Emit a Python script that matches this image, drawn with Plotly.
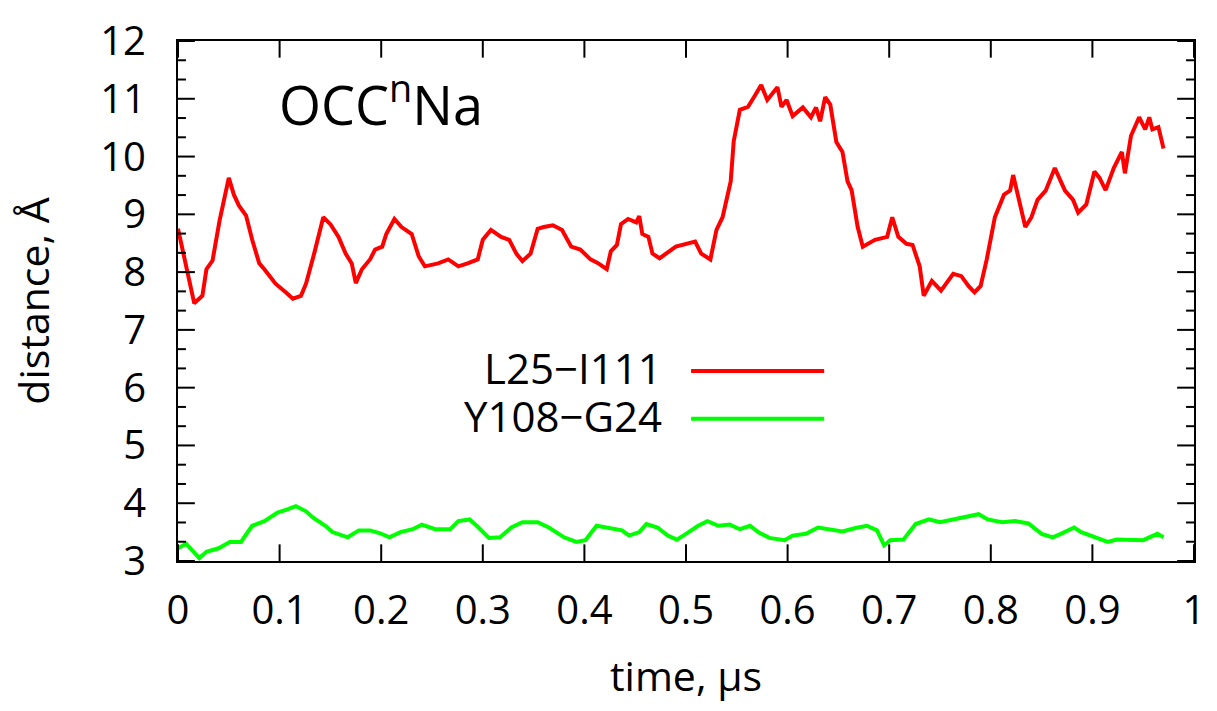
import plotly.graph_objects as go

# L25-I111 distance (red)
t_red = [0.000, 0.016, 0.024, 0.028, 0.034, 0.041, 0.050, 0.055, 0.060, 0.067, 0.073, 0.080,
         0.085, 0.096, 0.106, 0.113, 0.121, 0.126, 0.134, 0.139, 0.143, 0.150, 0.158, 0.165,
         0.171, 0.175, 0.181, 0.189, 0.194, 0.201, 0.205, 0.213, 0.220, 0.230, 0.237, 0.243,
         0.256, 0.266, 0.276, 0.285, 0.295, 0.300, 0.308, 0.318, 0.326, 0.333, 0.339, 0.347,
         0.354, 0.360, 0.369, 0.378, 0.387, 0.396, 0.406, 0.413, 0.422, 0.426, 0.432, 0.436,
         0.443, 0.451, 0.454, 0.457, 0.463, 0.467, 0.474, 0.490, 0.509, 0.515, 0.524, 0.530,
         0.536, 0.544, 0.547, 0.553, 0.561, 0.567, 0.574, 0.580, 0.586, 0.590, 0.594, 0.599,
         0.605, 0.615, 0.623, 0.628, 0.632, 0.637, 0.642, 0.648, 0.654, 0.659, 0.663, 0.669,
         0.674, 0.686, 0.698, 0.703, 0.709, 0.717, 0.723, 0.730, 0.734, 0.742, 0.751, 0.763,
         0.771, 0.778, 0.784, 0.790, 0.796, 0.804, 0.813, 0.819, 0.822, 0.827, 0.834, 0.840,
         0.846, 0.854, 0.863, 0.873, 0.881, 0.886, 0.894, 0.902, 0.907, 0.913, 0.921, 0.929,
         0.932, 0.938, 0.946, 0.952, 0.956, 0.959, 0.965, 0.970]
d_red = [8.75, 7.46, 7.59, 8.05, 8.20, 8.90, 9.63, 9.34, 9.15, 8.98, 8.56, 8.15,
         8.05, 7.80, 7.65, 7.54, 7.59, 7.80, 8.32, 8.66, 8.95, 8.83, 8.61, 8.32,
         8.15, 7.81, 8.05, 8.22, 8.39, 8.44, 8.66, 8.92, 8.78, 8.66, 8.27, 8.10,
         8.15, 8.22, 8.10, 8.15, 8.22, 8.56, 8.73, 8.61, 8.56, 8.32, 8.19, 8.32,
         8.75, 8.78, 8.81, 8.73, 8.44, 8.39, 8.22, 8.16, 8.05, 8.36, 8.47, 8.83,
         8.92, 8.86, 8.97, 8.66, 8.61, 8.32, 8.24, 8.44, 8.53, 8.32, 8.22, 8.73,
         8.95, 9.57, 10.27, 10.81, 10.86, 11.03, 11.24, 10.98, 11.10, 11.20, 10.86, 10.98,
         10.70, 10.85, 10.68, 10.85, 10.61, 11.03, 10.90, 10.25, 10.08, 9.57, 9.42, 8.78,
         8.44, 8.56, 8.61, 8.95, 8.61, 8.49, 8.47, 8.10, 7.59, 7.85, 7.68, 7.97,
         7.93, 7.76, 7.65, 7.76, 8.22, 8.95, 9.34, 9.41, 9.68, 9.29, 8.78, 8.95,
         9.25, 9.41, 9.80, 9.41, 9.25, 9.03, 9.17, 9.74, 9.63, 9.42, 9.80, 10.08,
         9.71, 10.36, 10.68, 10.47, 10.68, 10.47, 10.51, 10.14]

# Y108-G24 distance (green)
t_green = [0.000, 0.008, 0.021, 0.028, 0.040, 0.051, 0.062, 0.073, 0.085, 0.098, 0.107, 0.116,
           0.126, 0.133, 0.145, 0.152, 0.167, 0.178, 0.189, 0.199, 0.208, 0.219, 0.231, 0.240,
           0.253, 0.268, 0.276, 0.287, 0.294, 0.306, 0.317, 0.328, 0.339, 0.354, 0.365, 0.380,
           0.392, 0.401, 0.412, 0.422, 0.437, 0.444, 0.454, 0.461, 0.472, 0.482, 0.491, 0.500,
           0.512, 0.521, 0.532, 0.543, 0.553, 0.563, 0.571, 0.582, 0.597, 0.605, 0.618, 0.630,
           0.641, 0.654, 0.667, 0.678, 0.688, 0.695, 0.701, 0.714, 0.726, 0.739, 0.750, 0.765,
           0.778, 0.788, 0.797, 0.811, 0.824, 0.837, 0.850, 0.861, 0.869, 0.882, 0.889, 0.902,
           0.915, 0.924, 0.941, 0.950, 0.964, 0.970]
d_green = [3.22, 3.30, 3.05, 3.16, 3.22, 3.33, 3.33, 3.61, 3.69, 3.84, 3.89, 3.95,
           3.86, 3.75, 3.61, 3.50, 3.41, 3.53, 3.53, 3.48, 3.41, 3.50, 3.55, 3.63,
           3.55, 3.55, 3.69, 3.72, 3.61, 3.40, 3.41, 3.58, 3.67, 3.67, 3.58, 3.41,
           3.33, 3.36, 3.61, 3.58, 3.53, 3.44, 3.50, 3.64, 3.58, 3.44, 3.37, 3.47,
           3.61, 3.69, 3.61, 3.63, 3.55, 3.61, 3.50, 3.40, 3.36, 3.44, 3.47, 3.58,
           3.55, 3.51, 3.57, 3.61, 3.53, 3.27, 3.36, 3.37, 3.64, 3.72, 3.67, 3.72,
           3.76, 3.81, 3.72, 3.67, 3.69, 3.65, 3.47, 3.41, 3.47, 3.58, 3.50, 3.41,
           3.33, 3.37, 3.36, 3.36, 3.47, 3.41]

series_names = ["L25\u2212I111", "Y108\u2212G24"]
series_colors = ["#ff0000", "#00ff00"]
x_ticks = [0, 0.1, 0.2, 0.3, 0.4, 0.5, 0.6, 0.7, 0.8, 0.9, 1]
x_tick_text = ["0", "0.1", "0.2", "0.3", "0.4", "0.5", "0.6", "0.7", "0.8", "0.9", "1"]
y_ticks = [3, 4, 5, 6, 7, 8, 9, 10, 11, 12]
y_minor_per_major = 3

FONT = "Open Sans, Lato, sans-serif"
TICK_SIZE = 40
W, H = 1217, 711
M_L, M_R, M_T, M_B = 178, 15, 30, 150
PLOT_W = W - M_L - M_R
PLOT_H = H - M_T - M_B
MAJOR_LEN, MINOR_LEN = 17, 8
FRAME = "black"

fig = go.Figure()
for t, d, name, color in zip([t_red, t_green], [d_red, d_green], series_names, series_colors):
    fig.add_trace(go.Scatter(x=t, y=d, mode="lines", name=name,
                             line=dict(color=color, width=4), showlegend=False))

# key drawn inside the plot: label on the left, line sample on the right
key_y = [6.29, 5.46]
for name, color, ky in zip(series_names, series_colors, key_y):
    fig.add_annotation(x=0.478, y=ky, xref="x", yref="y", text=name, showarrow=False,
                       xanchor="right", yanchor="middle", yshift=4, height=46,
                       valign="middle",
                       font=dict(family=FONT, size=42, color="black"))
    fig.add_shape(type="line", xref="x", yref="y", x0=0.505, x1=0.636, y0=ky, y1=ky,
                  line=dict(color=color, width=4))

fig.add_annotation(x=0.097, y=10.95, xref="x", yref="y", text="OCC<sup>n</sup>Na",
                   showarrow=False, xanchor="left", yanchor="middle",
                   font=dict(family=FONT, size=54, color="black"))

# inward tick marks on all four sides of the frame (mirrored, gnuplot style)
tick_line = dict(color=FRAME, width=2)
fx = MAJOR_LEN / PLOT_H
for v in x_ticks:
    fig.add_shape(type="line", xref="x", yref="paper", x0=v, x1=v, y0=0, y1=fx, line=tick_line)
    fig.add_shape(type="line", xref="x", yref="paper", x0=v, x1=v, y0=1 - fx, y1=1, line=tick_line)
for i, v in enumerate(y_ticks):
    for k in range(y_minor_per_major if i < len(y_ticks) - 1 else 1):
        yv = v + k / y_minor_per_major
        ln = (MAJOR_LEN if k == 0 else MINOR_LEN) / PLOT_W
        fig.add_shape(type="line", xref="paper", yref="y", x0=0, x1=ln, y0=yv, y1=yv, line=tick_line)
        fig.add_shape(type="line", xref="paper", yref="y", x0=1 - ln, x1=1, y0=yv, y1=yv, line=tick_line)

fig.update_xaxes(range=[0, 1], tickvals=x_ticks, ticktext=x_tick_text,
                 showline=True, linecolor=FRAME, linewidth=2, mirror=True,
                 ticks="", showgrid=False, zeroline=False,
                 tickfont=dict(family=FONT, size=TICK_SIZE, color="black"),
                 ticklabelstandoff=13,
                 title=dict(text="time, \u00b5s", font=dict(family=FONT, size=41, color="black"),
                            standoff=27))
fig.update_yaxes(range=[3, 12], tickvals=y_ticks,
                 showline=True, linecolor=FRAME, linewidth=2, mirror=True,
                 ticks="", showgrid=False, zeroline=False,
                 tickfont=dict(family=FONT, size=TICK_SIZE, color="black"),
                 ticklabelstandoff=22,
                 title=dict(text="distance, \u00c5", font=dict(family=FONT, size=41, color="black"),
                            standoff=38))

fig.update_layout(
    width=W, height=H,
    margin=dict(l=M_L, r=M_R, t=M_T, b=M_B),
    paper_bgcolor="white", plot_bgcolor="white",
)

fig.write_html("out.html")
